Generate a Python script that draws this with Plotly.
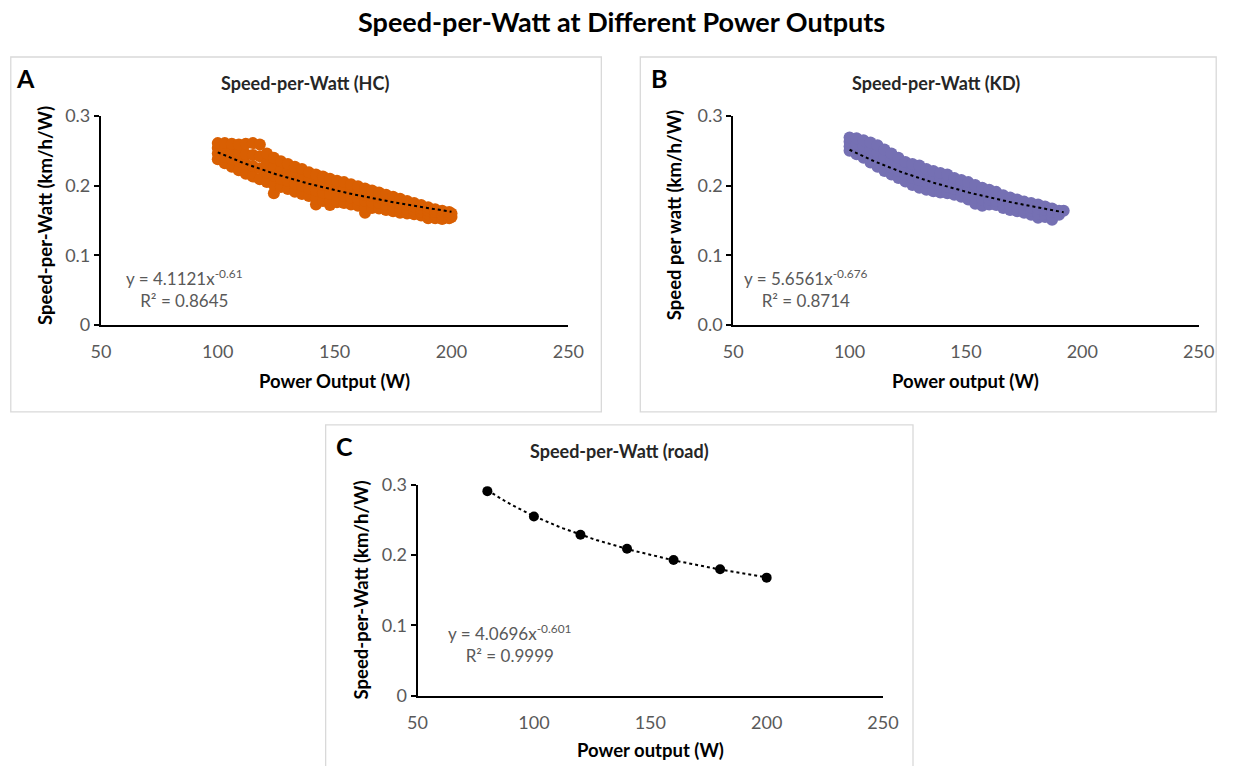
import numpy as np
import plotly.graph_objects as go

# ---------------- data ----------------
x_ticks = [50, 100, 150, 200, 250]
y_ticks = [0, 0.1, 0.2, 0.3]
y_ticktext_a = ["0", "0.1", "0.2", "0.3"]
y_ticktext_b = ["0.0", "0.1", "0.2", "0.3"]
y_ticktext_c = ["0", "0.1", "0.2", "0.3"]

# Panel A (HC): power columns and the speed-per-watt values observed in each column
hc_power_cols = [100, 103, 106, 109, 112, 115, 118, 121, 124, 127, 130, 133, 136, 139,
                 142, 145, 148, 151, 154, 157, 160, 163, 166, 169, 172, 175, 178, 181,
                 184, 187, 190, 193, 196, 199, 200]
hc_speed_cols = [
    [0.238, 0.246, 0.254, 0.261],
    [0.232, 0.241, 0.251, 0.261],
    [0.227, 0.238, 0.249, 0.260],
    [0.222, 0.235, 0.247, 0.259],
    [0.217, 0.231, 0.245, 0.260],
    [0.213, 0.228, 0.244, 0.261],
    [0.209, 0.225, 0.242, 0.259],
    [0.205, 0.218, 0.232, 0.246],
    [0.189, 0.201, 0.214, 0.227, 0.240],
    [0.198, 0.210, 0.222, 0.235],
    [0.195, 0.207, 0.219, 0.231],
    [0.191, 0.203, 0.215, 0.227],
    [0.188, 0.200, 0.212, 0.224],
    [0.185, 0.196, 0.208, 0.219],
    [0.173, 0.181, 0.193, 0.204, 0.216],
    [0.178, 0.190, 0.201, 0.213],
    [0.172, 0.177, 0.188, 0.199, 0.210],
    [0.176, 0.186, 0.197, 0.207],
    [0.175, 0.185, 0.195, 0.205],
    [0.173, 0.183, 0.193, 0.202],
    [0.171, 0.180, 0.190, 0.199],
    [0.161, 0.169, 0.178, 0.187, 0.196],
    [0.168, 0.176, 0.185, 0.193],
    [0.167, 0.175, 0.183, 0.190],
    [0.165, 0.172, 0.180, 0.187],
    [0.163, 0.170, 0.177, 0.184],
    [0.161, 0.168, 0.174, 0.181],
    [0.160, 0.166, 0.172, 0.178],
    [0.159, 0.164, 0.170, 0.175],
    [0.157, 0.162, 0.167, 0.172],
    [0.153, 0.159, 0.164, 0.169],
    [0.153, 0.158, 0.162, 0.166],
    [0.152, 0.158, 0.164],
    [0.153, 0.158, 0.162],
    [0.155, 0.160],
]

# Panel B (KD)
kd_power_cols = [100, 103, 106, 109, 112, 115, 118, 121, 124, 127, 130, 133, 136, 139,
                 142, 145, 148, 151, 154, 157, 160, 163, 166, 169, 172, 175, 178, 181,
                 184, 187, 190, 192]
kd_speed_cols = [
    [0.250, 0.256, 0.263, 0.269],
    [0.245, 0.253, 0.260, 0.268],
    [0.240, 0.248, 0.257, 0.265],
    [0.233, 0.243, 0.252, 0.262],
    [0.227, 0.237, 0.248, 0.258],
    [0.221, 0.231, 0.242, 0.252],
    [0.216, 0.226, 0.236, 0.246],
    [0.211, 0.221, 0.230, 0.240],
    [0.206, 0.215, 0.225, 0.234],
    [0.201, 0.211, 0.221, 0.231],
    [0.197, 0.208, 0.218, 0.229],
    [0.194, 0.204, 0.214, 0.224],
    [0.192, 0.202, 0.211, 0.221],
    [0.190, 0.199, 0.209, 0.218],
    [0.189, 0.198, 0.207, 0.216],
    [0.187, 0.195, 0.203, 0.211],
    [0.184, 0.192, 0.200, 0.208],
    [0.180, 0.188, 0.197, 0.205],
    [0.174, 0.183, 0.192, 0.201],
    [0.171, 0.180, 0.188, 0.197],
    [0.173, 0.180, 0.187, 0.194],
    [0.172, 0.178, 0.185, 0.191],
    [0.168, 0.174, 0.180, 0.186],
    [0.165, 0.171, 0.177, 0.183],
    [0.163, 0.169, 0.174, 0.180],
    [0.161, 0.166, 0.172, 0.177],
    [0.158, 0.164, 0.169, 0.175],
    [0.154, 0.160, 0.167, 0.173],
    [0.155, 0.160, 0.165, 0.170],
    [0.151, 0.156, 0.162, 0.167],
    [0.158, 0.164],
    [0.164],
]

# Panel C (road)
road_power = [80, 100, 120, 140, 160, 180, 200]
road_speed = [0.291, 0.255, 0.229, 0.209, 0.193, 0.180, 0.168]

# power-law trendline coefficients (as printed on the chart)
hc_fit = (4.1121, -0.61, 100, 200)
kd_fit = (5.6561, -0.676, 100, 192)
road_fit = (4.0696, -0.601, 80, 200)

# ---------------- layout helpers ----------------
W, H = 1233, 776
FONT = "Lato"
GREY = "#595959"
# the page is photographed with a small inset; map target pixel positions onto paper
OX, SX, OY, SY = 10.0, 0.98, 12.0, 0.972


def fx(p):
    v = ((p - OX) / SX) / W
    return min(max(v, 0.8 / W), 1 - 0.8 / W)


def fy(p):
    v = 1 - ((p - OY) / SY) / H
    return min(max(v, 0.0), 1 - 0.8 / H)


def flatten(px_cols, sp_cols):
    xs, ys = [], []
    for p, col in zip(px_cols, sp_cols):
        for v in col:
            xs.append(p)
            ys.append(v)
    return xs, ys


fig = go.Figure()

panels = [
    dict(xa="x", ya="y", xdom=(101, 569), ydom=(116, 325), ticktext=y_ticktext_a),
    dict(xa="x2", ya="y2", xdom=(734, 1200), ydom=(116, 325), ticktext=y_ticktext_b),
    dict(xa="x3", ya="y3", xdom=(418, 884), ydom=(485, 696), ticktext=y_ticktext_c),
]

hx, hy = flatten(hc_power_cols, hc_speed_cols)
kx, ky = flatten(kd_power_cols, kd_speed_cols)

series = [
    (hx, hy, "#D95F02", 12, hc_fit),
    (kx, ky, "#7570B3", 12, kd_fit),
    (road_power, road_speed, "#000000", 10, road_fit),
]

for i, (xs, ys, col, msize, fit) in enumerate(series):
    pn = panels[i]
    fig.add_trace(go.Scatter(
        x=xs, y=ys, mode="markers", xaxis=pn["xa"], yaxis=pn["ya"],
        marker=dict(color=col, size=msize, line=dict(width=0)),
        hoverinfo="skip", showlegend=False))
    a, b, x0, x1 = fit
    tx = np.linspace(x0, x1, 60)
    fig.add_trace(go.Scatter(
        x=tx, y=a * tx ** b, mode="lines", xaxis=pn["xa"], yaxis=pn["ya"],
        line=dict(color="black", width=2, dash="dot"),
        hoverinfo="skip", showlegend=False))

layout_axes = {}
for i, pn in enumerate(panels):
    sfx = "" if i == 0 else str(i + 1)
    layout_axes["xaxis" + sfx] = dict(
        domain=[fx(pn["xdom"][0]), fx(pn["xdom"][1])],
        anchor="y" + sfx, range=[50, 250], tickvals=x_ticks,
        showline=True, linecolor="black", linewidth=2,
        ticks="outside", ticklen=10, tickcolor="rgba(0,0,0,0)",
        tickfont=dict(family=FONT, size=18, color=GREY),
        showgrid=False, zeroline=False, fixedrange=True)
    layout_axes["yaxis" + sfx] = dict(
        domain=[fy(pn["ydom"][1]), fy(pn["ydom"][0])],
        anchor="x" + sfx, range=[0, 0.3], tickvals=y_ticks, ticktext=pn["ticktext"],
        showline=True, linecolor="black", linewidth=2,
        ticks="outside", ticklen=5, tickwidth=2, tickcolor="black",
        tickfont=dict(family=FONT, size=18, color=GREY),
        showgrid=False, zeroline=False, fixedrange=True)

fig.update_layout(**layout_axes)

# panel frames (panel C is open at the bottom edge of the figure)
frame_line = dict(color="#D9D9D9", width=1.3)
shapes = [
    dict(type="rect", xref="paper", yref="paper", x0=fx(10), x1=fx(602),
         y0=fy(412), y1=fy(57), line=frame_line, fillcolor="rgba(0,0,0,0)", layer="below"),
    dict(type="rect", xref="paper", yref="paper", x0=fx(641), x1=fx(1229),
         y0=fy(412), y1=fy(57), line=frame_line, fillcolor="rgba(0,0,0,0)", layer="below"),
    dict(type="path", xref="paper", yref="paper",
         path="M %f,%f L %f,%f L %f,%f L %f,%f" % (fx(326), 0.0, fx(326), fy(425),
                                                    fx(914), fy(425), fx(914), 0.0),
         line=frame_line, layer="below"),
]

ann = []


def text(x, y, s, size, color="black", bold=False, angle=0, align="center"):
    ann.append(dict(x=fx(x), y=fy(y), xref="paper", yref="paper", text=s,
                    showarrow=False, textangle=angle, align=align,
                    xanchor="center", yanchor="middle",
                    font=dict(family=FONT, size=size, color=color,
                              weight="bold" if bold else "normal")))


text(622, 22, "Speed-per-Watt at Different Power Outputs", 27, bold=True)

text(26, 78, "A", 25, bold=True)
text(660, 78, "B", 25, bold=True)
text(345, 446, "C", 25, bold=True)

text(305, 83, "Speed-per-Watt (HC)", 18, color="#262626", bold=True)
text(937, 83, "Speed-per-Watt (KD)", 18, color="#262626", bold=True)
text(620, 451, "Speed-per-Watt (road)", 18, color="#262626", bold=True)

text(45, 215, "Speed-per-Watt (km/h/W)", 18.5, bold=True, angle=-90)
text(675, 215, "Speed per watt (km/h/W)", 18.5, bold=True, angle=-90)
text(361, 590, "Speed-per-Watt (km/h/W)", 18.5, bold=True, angle=-90)

text(335, 381, "Power Output (W)", 18.5, bold=True)
text(967, 381, "Power output (W)", 18.5, bold=True)
text(651, 750, "Power output (W)", 18.5, bold=True)


def eq(x, y, fit, r2):
    a, b = fit[0], fit[1]
    bs = ("%g" % b)
    s = "y = %.4fx<sup>%s</sup><br>R² = %.4f" % (a, bs, r2)
    text(x, y, s, 17, color=GREY)


eq(185, 289, hc_fit, 0.8645)
eq(807, 289, kd_fit, 0.8714)
eq(511, 644, road_fit, 0.9999)

fig.update_layout(
    width=W, height=H, autosize=False, margin=dict(l=0, r=0, t=0, b=0),
    paper_bgcolor="white", plot_bgcolor="rgba(0,0,0,0)",
    showlegend=False, shapes=shapes, annotations=ann,
    font=dict(family=FONT),
)

fig.write_html("out.html", config={"responsive": False},
               post_script="document.body.style.margin='0';")
